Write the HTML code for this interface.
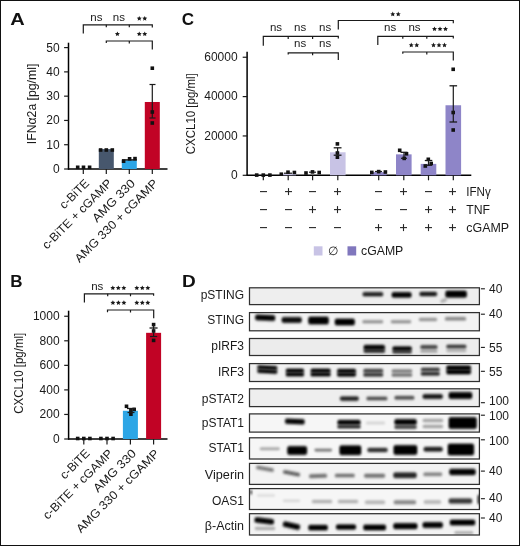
<!DOCTYPE html>
<html><head><meta charset="utf-8"><style>
html,body{margin:0;padding:0;background:#fff;}
svg{display:block;font-family:"Liberation Sans", sans-serif;will-change:transform;}
</style></head><body>
<svg width="520" height="546" viewBox="0 0 520 546">
<defs><filter id="b1" x="-20%" y="-100%" width="140%" height="300%"><feGaussianBlur stdDeviation="0.9"/></filter><filter id="b2" x="-30%" y="-150%" width="160%" height="400%"><feGaussianBlur stdDeviation="1.3"/></filter></defs>
<rect x="0.5" y="0.5" width="519" height="545" fill="#fff" stroke="#111" stroke-width="1"/>
<text transform="translate(10.2 24.8) scale(1.18 1)" font-size="17" font-weight="bold" fill="#111">A</text>
<text transform="translate(181.8 25.0) scale(1.0 1)" font-size="17" font-weight="bold" fill="#111">C</text>
<text transform="translate(10.2 286.6) scale(1.0 1)" font-size="17" font-weight="bold" fill="#111">B</text>
<text transform="translate(182.1 286.7) scale(1.12 1)" font-size="17" font-weight="bold" fill="#111">D</text>
<line x1="68.5" y1="42.7" x2="68.5" y2="169.6" stroke="#000" stroke-width="1.5"/>
<line x1="67.9" y1="169.0" x2="167.5" y2="169.0" stroke="#000" stroke-width="1.5"/>
<line x1="64.1" y1="169.0" x2="68.5" y2="169.0" stroke="#1a1a1a" stroke-width="1.2"/>
<text x="59.6" y="173.01999999999998" font-size="12" text-anchor="end" fill="#1a1a1a">0</text>
<line x1="64.1" y1="144.72" x2="68.5" y2="144.72" stroke="#1a1a1a" stroke-width="1.2"/>
<text x="59.6" y="148.73999999999998" font-size="12" text-anchor="end" fill="#1a1a1a">10</text>
<line x1="64.1" y1="120.44" x2="68.5" y2="120.44" stroke="#1a1a1a" stroke-width="1.2"/>
<text x="59.6" y="124.46" font-size="12" text-anchor="end" fill="#1a1a1a">20</text>
<line x1="64.1" y1="96.16" x2="68.5" y2="96.16" stroke="#1a1a1a" stroke-width="1.2"/>
<text x="59.6" y="100.17999999999999" font-size="12" text-anchor="end" fill="#1a1a1a">30</text>
<line x1="64.1" y1="71.88" x2="68.5" y2="71.88" stroke="#1a1a1a" stroke-width="1.2"/>
<text x="59.6" y="75.89999999999999" font-size="12" text-anchor="end" fill="#1a1a1a">40</text>
<line x1="64.1" y1="47.60000000000001" x2="68.5" y2="47.60000000000001" stroke="#1a1a1a" stroke-width="1.2"/>
<text x="59.6" y="51.62000000000001" font-size="12" text-anchor="end" fill="#1a1a1a">50</text>
<text x="36.5" y="144.2" font-size="13" text-anchor="start" transform="rotate(-90 36.5 144.2)" fill="#1a1a1a" textLength="80.5" lengthAdjust="spacingAndGlyphs">IFN&#945;2a [pg/ml]</text>
<rect x="98.8" y="149.0904" width="15" height="19.90960000000001" fill="#47576d"/>
<rect x="121.80000000000001" y="160.2592" width="15" height="8.740800000000007" fill="#2da6e6"/>
<rect x="144.8" y="101.9872" width="15" height="67.0128" fill="#c10325"/>
<line x1="83.3" y1="169.0" x2="83.3" y2="174.0" stroke="#1a1a1a" stroke-width="1.2"/>
<line x1="106.3" y1="169.0" x2="106.3" y2="174.0" stroke="#1a1a1a" stroke-width="1.2"/>
<line x1="129.3" y1="169.0" x2="129.3" y2="174.0" stroke="#1a1a1a" stroke-width="1.2"/>
<line x1="152.3" y1="169.0" x2="152.3" y2="174.0" stroke="#1a1a1a" stroke-width="1.2"/>
<rect x="75.9" y="165.5" width="3.6" height="3.6" fill="#111"/>
<rect x="81.7" y="165.5" width="3.6" height="3.6" fill="#111"/>
<rect x="87.8" y="165.5" width="3.6" height="3.6" fill="#111"/>
<rect x="98.8" y="148.2" width="3.6" height="3.6" fill="#111"/>
<rect x="104.5" y="148.2" width="3.6" height="3.6" fill="#111"/>
<rect x="110.5" y="148.2" width="3.6" height="3.6" fill="#111"/>
<rect x="121.8" y="159.39999999999998" width="3.6" height="3.6" fill="#111"/>
<rect x="127.8" y="157.0" width="3.6" height="3.6" fill="#111"/>
<rect x="133.2" y="156.79999999999998" width="3.6" height="3.6" fill="#111"/>
<line x1="152.3" y1="84.5" x2="152.3" y2="118" stroke="#1a1a1a" stroke-width="1.2"/>
<line x1="149.5" y1="84.5" x2="155.5" y2="84.5" stroke="#1a1a1a" stroke-width="1.2"/>
<line x1="149.5" y1="118" x2="155.5" y2="118" stroke="#1a1a1a" stroke-width="1.2"/>
<rect x="150.5" y="66.4" width="3.6" height="3.6" fill="#111"/>
<rect x="150.5" y="110.2" width="3.6" height="3.6" fill="#111"/>
<rect x="150.5" y="121.2" width="3.6" height="3.6" fill="#111"/>
<line x1="122" y1="159.9" x2="136.8" y2="159.9" stroke="#111" stroke-width="1.4"/>
<text x="89.8" y="184" font-size="12" text-anchor="end" transform="rotate(-45 89.8 184)" fill="#1a1a1a" textLength="36" lengthAdjust="spacingAndGlyphs">c-BiTE</text>
<text x="112.8" y="184" font-size="12" text-anchor="end" transform="rotate(-45 112.8 184)" fill="#1a1a1a" textLength="93" lengthAdjust="spacingAndGlyphs">c-BiTE + cGAMP</text>
<text x="135.8" y="184" font-size="12" text-anchor="end" transform="rotate(-45 135.8 184)" fill="#1a1a1a" textLength="55" lengthAdjust="spacingAndGlyphs">AMG 330</text>
<text x="158.8" y="184" font-size="12" text-anchor="end" transform="rotate(-45 158.8 184)" fill="#1a1a1a" textLength="112" lengthAdjust="spacingAndGlyphs">AMG 330 + cGAMP</text>
<path d="M83.3,33.5 L83.3,24.8 L152.3,24.8 L152.3,27.5" stroke="#1a1a1a" stroke-width="1.2" fill="none"/>
<line x1="106.3" y1="24.8" x2="106.3" y2="27.3" stroke="#1a1a1a" stroke-width="1.2"/>
<line x1="129.3" y1="24.8" x2="129.3" y2="27.3" stroke="#1a1a1a" stroke-width="1.2"/>
<text x="96.4" y="21.189999999999998" font-size="11.5" text-anchor="middle" fill="#1a1a1a">ns</text>
<text x="118.9" y="21.189999999999998" font-size="11.5" text-anchor="middle" fill="#1a1a1a">ns</text>
<polygon points="139.25,16.00 139.98,17.59 141.72,17.80 140.44,18.99 140.78,20.70 139.25,19.85 137.72,20.70 138.06,18.99 136.78,17.80 138.52,17.59" fill="#1a1a1a"/>
<polygon points="144.75,16.00 145.48,17.59 147.22,17.80 145.94,18.99 146.28,20.70 144.75,19.85 143.22,20.70 143.56,18.99 142.28,17.80 144.02,17.59" fill="#1a1a1a"/>
<path d="M106.3,43.0 L106.3,41.0 L152.3,41.0 L152.3,49.5" stroke="#1a1a1a" stroke-width="1.2" fill="none"/>
<line x1="129.3" y1="41.0" x2="129.3" y2="43.5" stroke="#1a1a1a" stroke-width="1.2"/>
<polygon points="117.40,31.40 118.13,32.99 119.87,33.20 118.59,34.39 118.93,36.10 117.40,35.25 115.87,36.10 116.21,34.39 114.93,33.20 116.67,32.99" fill="#1a1a1a"/>
<polygon points="139.25,31.40 139.98,32.99 141.72,33.20 140.44,34.39 140.78,36.10 139.25,35.25 137.72,36.10 138.06,34.39 136.78,33.20 138.52,32.99" fill="#1a1a1a"/>
<polygon points="144.75,31.40 145.48,32.99 147.22,33.20 145.94,34.39 146.28,36.10 144.75,35.25 143.22,36.10 143.56,34.39 142.28,33.20 144.02,32.99" fill="#1a1a1a"/>
<line x1="68.6" y1="310.7" x2="68.6" y2="439.6" stroke="#000" stroke-width="1.5"/>
<line x1="68.0" y1="439.0" x2="167.5" y2="439.0" stroke="#000" stroke-width="1.5"/>
<line x1="64.19999999999999" y1="439.0" x2="68.6" y2="439.0" stroke="#1a1a1a" stroke-width="1.2"/>
<text x="59.6" y="443.02" font-size="12" text-anchor="end" fill="#1a1a1a">0</text>
<line x1="64.19999999999999" y1="414.45" x2="68.6" y2="414.45" stroke="#1a1a1a" stroke-width="1.2"/>
<text x="59.6" y="418.46999999999997" font-size="12" text-anchor="end" fill="#1a1a1a">200</text>
<line x1="64.19999999999999" y1="389.9" x2="68.6" y2="389.9" stroke="#1a1a1a" stroke-width="1.2"/>
<text x="59.6" y="393.91999999999996" font-size="12" text-anchor="end" fill="#1a1a1a">400</text>
<line x1="64.19999999999999" y1="365.35" x2="68.6" y2="365.35" stroke="#1a1a1a" stroke-width="1.2"/>
<text x="59.6" y="369.37" font-size="12" text-anchor="end" fill="#1a1a1a">600</text>
<line x1="64.19999999999999" y1="340.8" x2="68.6" y2="340.8" stroke="#1a1a1a" stroke-width="1.2"/>
<text x="59.6" y="344.82" font-size="12" text-anchor="end" fill="#1a1a1a">800</text>
<line x1="64.19999999999999" y1="316.25" x2="68.6" y2="316.25" stroke="#1a1a1a" stroke-width="1.2"/>
<text x="59.6" y="320.27" font-size="12" text-anchor="end" fill="#1a1a1a">1000</text>
<text x="23.0" y="413.8" font-size="13" text-anchor="start" transform="rotate(-90 23.0 413.8)" fill="#1a1a1a" textLength="81" lengthAdjust="spacingAndGlyphs">CXCL10 [pg/ml]</text>
<rect x="122.9" y="410.7675" width="15" height="28.232500000000016" fill="#2da6e6"/>
<rect x="146.1" y="332.82125" width="15" height="106.17874999999998" fill="#c10325"/>
<line x1="83.8" y1="439.0" x2="83.8" y2="444.5" stroke="#1a1a1a" stroke-width="1.2"/>
<line x1="107.0" y1="439.0" x2="107.0" y2="444.5" stroke="#1a1a1a" stroke-width="1.2"/>
<line x1="130.4" y1="439.0" x2="130.4" y2="444.5" stroke="#1a1a1a" stroke-width="1.2"/>
<line x1="153.6" y1="439.0" x2="153.6" y2="444.5" stroke="#1a1a1a" stroke-width="1.2"/>
<rect x="75.9" y="436.7" width="3.6" height="3.6" fill="#111"/>
<rect x="82.0" y="436.7" width="3.6" height="3.6" fill="#111"/>
<rect x="88.10000000000001" y="436.7" width="3.6" height="3.6" fill="#111"/>
<rect x="99.10000000000001" y="436.7" width="3.6" height="3.6" fill="#111"/>
<rect x="105.2" y="436.7" width="3.6" height="3.6" fill="#111"/>
<rect x="111.30000000000001" y="436.7" width="3.6" height="3.6" fill="#111"/>
<rect x="124.7" y="404.5" width="3.6" height="3.6" fill="#111"/>
<rect x="132.39999999999998" y="407.59999999999997" width="3.6" height="3.6" fill="#111"/>
<rect x="129.1" y="408.8" width="3.6" height="3.6" fill="#111"/>
<rect x="129.1" y="412.4" width="3.6" height="3.6" fill="#111"/>
<line x1="130.9" y1="408.5" x2="130.9" y2="413" stroke="#1a1a1a" stroke-width="1.2"/>
<line x1="127" y1="408.5" x2="135" y2="408.5" stroke="#1a1a1a" stroke-width="1.3"/>
<line x1="127.5" y1="412.5" x2="134.5" y2="412.5" stroke="#1a1a1a" stroke-width="1.2"/>
<rect x="151.79999999999998" y="322.8" width="3.6" height="3.6" fill="#111"/>
<rect x="151.79999999999998" y="329.2" width="3.6" height="3.6" fill="#111"/>
<rect x="151.79999999999998" y="338.59999999999997" width="3.6" height="3.6" fill="#111"/>
<line x1="153.6" y1="324.6" x2="153.6" y2="336.5" stroke="#1a1a1a" stroke-width="1.2"/>
<line x1="149.5" y1="328" x2="157.6" y2="328" stroke="#1a1a1a" stroke-width="1.3"/>
<line x1="150" y1="336.5" x2="157.2" y2="336.5" stroke="#1a1a1a" stroke-width="1.2"/>
<text x="90.3" y="454.2" font-size="12" text-anchor="end" transform="rotate(-45 90.3 454.2)" fill="#1a1a1a" textLength="36" lengthAdjust="spacingAndGlyphs">c-BiTE</text>
<text x="113.5" y="454.2" font-size="12" text-anchor="end" transform="rotate(-45 113.5 454.2)" fill="#1a1a1a" textLength="93" lengthAdjust="spacingAndGlyphs">c-BiTE + cGAMP</text>
<text x="136.9" y="454.2" font-size="12" text-anchor="end" transform="rotate(-45 136.9 454.2)" fill="#1a1a1a" textLength="55" lengthAdjust="spacingAndGlyphs">AMG 330</text>
<text x="160.1" y="454.2" font-size="12" text-anchor="end" transform="rotate(-45 160.1 454.2)" fill="#1a1a1a" textLength="112" lengthAdjust="spacingAndGlyphs">AMG 330 + cGAMP</text>
<path d="M84.4,302.6 L84.4,293.8 L153.6,293.8 L153.6,295.8" stroke="#1a1a1a" stroke-width="1.2" fill="none"/>
<line x1="107.7" y1="293.8" x2="107.7" y2="296.3" stroke="#1a1a1a" stroke-width="1.2"/>
<line x1="130.5" y1="293.8" x2="130.5" y2="296.3" stroke="#1a1a1a" stroke-width="1.2"/>
<text x="97.3" y="290.19" font-size="11.5" text-anchor="middle" fill="#1a1a1a">ns</text>
<polygon points="112.80,285.40 113.53,286.99 115.27,287.20 113.99,288.39 114.33,290.10 112.80,289.25 111.27,290.10 111.61,288.39 110.33,287.20 112.07,286.99" fill="#1a1a1a"/>
<polygon points="118.30,285.40 119.03,286.99 120.77,287.20 119.49,288.39 119.83,290.10 118.30,289.25 116.77,290.10 117.11,288.39 115.83,287.20 117.57,286.99" fill="#1a1a1a"/>
<polygon points="123.80,285.40 124.53,286.99 126.27,287.20 124.99,288.39 125.33,290.10 123.80,289.25 122.27,290.10 122.61,288.39 121.33,287.20 123.07,286.99" fill="#1a1a1a"/>
<polygon points="136.80,285.40 137.53,286.99 139.27,287.20 137.99,288.39 138.33,290.10 136.80,289.25 135.27,290.10 135.61,288.39 134.33,287.20 136.07,286.99" fill="#1a1a1a"/>
<polygon points="142.30,285.40 143.03,286.99 144.77,287.20 143.49,288.39 143.83,290.10 142.30,289.25 140.77,290.10 141.11,288.39 139.83,287.20 141.57,286.99" fill="#1a1a1a"/>
<polygon points="147.80,285.40 148.53,286.99 150.27,287.20 148.99,288.39 149.33,290.10 147.80,289.25 146.27,290.10 146.61,288.39 145.33,287.20 147.07,286.99" fill="#1a1a1a"/>
<path d="M107.5,312.3 L107.5,310.0 L153.7,310.0 L153.7,318.3" stroke="#1a1a1a" stroke-width="1.2" fill="none"/>
<line x1="130.5" y1="310.0" x2="130.5" y2="312.5" stroke="#1a1a1a" stroke-width="1.2"/>
<polygon points="112.90,300.20 113.63,301.79 115.37,302.00 114.09,303.19 114.43,304.90 112.90,304.05 111.37,304.90 111.71,303.19 110.43,302.00 112.17,301.79" fill="#1a1a1a"/>
<polygon points="118.40,300.20 119.13,301.79 120.87,302.00 119.59,303.19 119.93,304.90 118.40,304.05 116.87,304.90 117.21,303.19 115.93,302.00 117.67,301.79" fill="#1a1a1a"/>
<polygon points="123.90,300.20 124.63,301.79 126.37,302.00 125.09,303.19 125.43,304.90 123.90,304.05 122.37,304.90 122.71,303.19 121.43,302.00 123.17,301.79" fill="#1a1a1a"/>
<polygon points="136.80,300.20 137.53,301.79 139.27,302.00 137.99,303.19 138.33,304.90 136.80,304.05 135.27,304.90 135.61,303.19 134.33,302.00 136.07,301.79" fill="#1a1a1a"/>
<polygon points="142.30,300.20 143.03,301.79 144.77,302.00 143.49,303.19 143.83,304.90 142.30,304.05 140.77,304.90 141.11,303.19 139.83,302.00 141.57,301.79" fill="#1a1a1a"/>
<polygon points="147.80,300.20 148.53,301.79 150.27,302.00 148.99,303.19 149.33,304.90 147.80,304.05 146.27,304.90 146.61,303.19 145.33,302.00 147.07,301.79" fill="#1a1a1a"/>
<line x1="247.1" y1="51.8" x2="247.1" y2="175.9" stroke="#000" stroke-width="1.5"/>
<line x1="246.5" y1="175.3" x2="471.3" y2="175.3" stroke="#000" stroke-width="1.5"/>
<line x1="242.7" y1="175.3" x2="247.1" y2="175.3" stroke="#1a1a1a" stroke-width="1.2"/>
<text x="237.6" y="179.12" font-size="12" text-anchor="end" fill="#1a1a1a">0</text>
<line x1="242.7" y1="135.95000000000002" x2="247.1" y2="135.95000000000002" stroke="#1a1a1a" stroke-width="1.2"/>
<text x="237.6" y="139.77" font-size="12" text-anchor="end" fill="#1a1a1a">20000</text>
<line x1="242.7" y1="96.60000000000001" x2="247.1" y2="96.60000000000001" stroke="#1a1a1a" stroke-width="1.2"/>
<text x="237.6" y="100.42000000000002" font-size="12" text-anchor="end" fill="#1a1a1a">40000</text>
<line x1="242.7" y1="57.250000000000014" x2="247.1" y2="57.250000000000014" stroke="#1a1a1a" stroke-width="1.2"/>
<text x="237.6" y="61.070000000000014" font-size="12" text-anchor="end" fill="#1a1a1a">60000</text>
<text x="194.8" y="154.2" font-size="13" text-anchor="start" transform="rotate(-90 194.8 154.2)" fill="#1a1a1a" textLength="81" lengthAdjust="spacingAndGlyphs">CXCL10 [pg/ml]</text>
<rect x="280.4" y="173.726" width="15.6" height="1.5740000000000123" fill="#c8c3e5"/>
<rect x="330.0" y="152.28025000000002" width="15.6" height="23.019749999999988" fill="#c8c3e5"/>
<rect x="370.9" y="172.15200000000002" width="15.6" height="3.147999999999996" fill="#8e85c8"/>
<rect x="396.0" y="154.346125" width="15.6" height="20.95387500000001" fill="#8e85c8"/>
<rect x="420.7" y="163.88850000000002" width="15.6" height="11.41149999999999" fill="#8e85c8"/>
<rect x="445.5" y="105.257" width="15.6" height="70.043" fill="#8e85c8"/>
<line x1="263.3" y1="175.3" x2="263.3" y2="180.3" stroke="#1a1a1a" stroke-width="1.2"/>
<line x1="288.2" y1="175.3" x2="288.2" y2="180.3" stroke="#1a1a1a" stroke-width="1.2"/>
<line x1="312.6" y1="175.3" x2="312.6" y2="180.3" stroke="#1a1a1a" stroke-width="1.2"/>
<line x1="337.8" y1="175.3" x2="337.8" y2="180.3" stroke="#1a1a1a" stroke-width="1.2"/>
<line x1="378.7" y1="175.3" x2="378.7" y2="180.3" stroke="#1a1a1a" stroke-width="1.2"/>
<line x1="403.8" y1="175.3" x2="403.8" y2="180.3" stroke="#1a1a1a" stroke-width="1.2"/>
<line x1="428.5" y1="175.3" x2="428.5" y2="180.3" stroke="#1a1a1a" stroke-width="1.2"/>
<line x1="453.3" y1="175.3" x2="453.3" y2="180.3" stroke="#1a1a1a" stroke-width="1.2"/>
<rect x="254.89999999999998" y="173.29999999999998" width="3.6" height="3.6" fill="#111"/>
<rect x="261.5" y="173.29999999999998" width="3.6" height="3.6" fill="#111"/>
<rect x="268.09999999999997" y="173.29999999999998" width="3.6" height="3.6" fill="#111"/>
<rect x="279.5" y="172.39999999999998" width="3.6" height="3.6" fill="#111"/>
<rect x="286.2" y="170.39999999999998" width="3.6" height="3.6" fill="#111"/>
<rect x="292.59999999999997" y="170.7" width="3.6" height="3.6" fill="#111"/>
<line x1="284" y1="173.2" x2="292" y2="173.2" stroke="#1a1a1a" stroke-width="1.2"/>
<rect x="304.2" y="171.2" width="3.6" height="3.6" fill="#111"/>
<rect x="310.7" y="170.1" width="3.6" height="3.6" fill="#111"/>
<rect x="317.4" y="170.7" width="3.6" height="3.6" fill="#111"/>
<line x1="309" y1="172.2" x2="316" y2="172.2" stroke="#1a1a1a" stroke-width="1.2"/>
<rect x="335.59999999999997" y="142.1" width="3.6" height="3.6" fill="#111"/>
<rect x="335.59999999999997" y="151.2" width="3.6" height="3.6" fill="#111"/>
<rect x="335.59999999999997" y="155.39999999999998" width="3.6" height="3.6" fill="#111"/>
<line x1="337.6" y1="147.8" x2="337.6" y2="155.2" stroke="#1a1a1a" stroke-width="1.2"/>
<line x1="333.7" y1="147.8" x2="341.5" y2="147.8" stroke="#1a1a1a" stroke-width="1.3"/>
<line x1="333.7" y1="155.2" x2="341.5" y2="155.2" stroke="#1a1a1a" stroke-width="1.3"/>
<rect x="370.0" y="170.6" width="3.6" height="3.6" fill="#111"/>
<rect x="376.9" y="169.79999999999998" width="3.6" height="3.6" fill="#111"/>
<rect x="383.59999999999997" y="170.2" width="3.6" height="3.6" fill="#111"/>
<line x1="375" y1="171.5" x2="382" y2="171.5" stroke="#1a1a1a" stroke-width="1.2"/>
<rect x="397.9" y="148.5" width="3.6" height="3.6" fill="#111"/>
<rect x="404.7" y="152.0" width="3.6" height="3.6" fill="#111"/>
<rect x="402.4" y="156.6" width="3.6" height="3.6" fill="#111"/>
<line x1="404" y1="152.3" x2="404" y2="158.5" stroke="#1a1a1a" stroke-width="1.2"/>
<line x1="400.5" y1="152.3" x2="407.5" y2="152.3" stroke="#1a1a1a" stroke-width="1.3"/>
<line x1="401" y1="158.3" x2="407" y2="158.3" stroke="#1a1a1a" stroke-width="1.2"/>
<rect x="426.5" y="157.5" width="3.6" height="3.6" fill="#111"/>
<rect x="423.5" y="164.2" width="3.6" height="3.6" fill="#111"/>
<rect x="429.4" y="161.7" width="3.6" height="3.6" fill="#111"/>
<line x1="428.5" y1="160.5" x2="428.5" y2="165.5" stroke="#1a1a1a" stroke-width="1.2"/>
<line x1="424.8" y1="160.5" x2="432.3" y2="160.5" stroke="#1a1a1a" stroke-width="1.3"/>
<line x1="425" y1="165.3" x2="432" y2="165.3" stroke="#1a1a1a" stroke-width="1.2"/>
<rect x="451.4" y="67.5" width="3.6" height="3.6" fill="#111"/>
<rect x="451.4" y="110.7" width="3.6" height="3.6" fill="#111"/>
<rect x="451.4" y="128.2" width="3.6" height="3.6" fill="#111"/>
<line x1="453.3" y1="85.8" x2="453.3" y2="122" stroke="#1a1a1a" stroke-width="1.2"/>
<line x1="449.5" y1="85.8" x2="457.1" y2="85.8" stroke="#1a1a1a" stroke-width="1.3"/>
<line x1="449.5" y1="122" x2="457.1" y2="122" stroke="#1a1a1a" stroke-width="1.3"/>
<line x1="260.0" y1="191.6" x2="267.0" y2="191.6" stroke="#262626" stroke-width="1.1"/>
<line x1="285.0" y1="191.6" x2="292.0" y2="191.6" stroke="#262626" stroke-width="1.1"/>
<line x1="288.5" y1="188.1" x2="288.5" y2="195.1" stroke="#262626" stroke-width="1.1"/>
<line x1="309.0" y1="191.6" x2="316.0" y2="191.6" stroke="#262626" stroke-width="1.1"/>
<line x1="334.0" y1="191.6" x2="341.0" y2="191.6" stroke="#262626" stroke-width="1.1"/>
<line x1="337.5" y1="188.1" x2="337.5" y2="195.1" stroke="#262626" stroke-width="1.1"/>
<line x1="375.0" y1="191.6" x2="382.0" y2="191.6" stroke="#262626" stroke-width="1.1"/>
<line x1="400.0" y1="191.6" x2="407.0" y2="191.6" stroke="#262626" stroke-width="1.1"/>
<line x1="403.5" y1="188.1" x2="403.5" y2="195.1" stroke="#262626" stroke-width="1.1"/>
<line x1="425.0" y1="191.6" x2="432.0" y2="191.6" stroke="#262626" stroke-width="1.1"/>
<line x1="449.0" y1="191.6" x2="456.0" y2="191.6" stroke="#262626" stroke-width="1.1"/>
<line x1="452.5" y1="188.1" x2="452.5" y2="195.1" stroke="#262626" stroke-width="1.1"/>
<text x="466.3" y="195.61999999999998" font-size="12" text-anchor="start" fill="#1a1a1a" textLength="24.5" lengthAdjust="spacingAndGlyphs">IFN&#947;</text>
<line x1="260.0" y1="209.6" x2="267.0" y2="209.6" stroke="#262626" stroke-width="1.1"/>
<line x1="285.0" y1="209.6" x2="292.0" y2="209.6" stroke="#262626" stroke-width="1.1"/>
<line x1="309.0" y1="209.6" x2="316.0" y2="209.6" stroke="#262626" stroke-width="1.1"/>
<line x1="312.5" y1="206.1" x2="312.5" y2="213.1" stroke="#262626" stroke-width="1.1"/>
<line x1="334.0" y1="209.6" x2="341.0" y2="209.6" stroke="#262626" stroke-width="1.1"/>
<line x1="337.5" y1="206.1" x2="337.5" y2="213.1" stroke="#262626" stroke-width="1.1"/>
<line x1="375.0" y1="209.6" x2="382.0" y2="209.6" stroke="#262626" stroke-width="1.1"/>
<line x1="400.0" y1="209.6" x2="407.0" y2="209.6" stroke="#262626" stroke-width="1.1"/>
<line x1="425.0" y1="209.6" x2="432.0" y2="209.6" stroke="#262626" stroke-width="1.1"/>
<line x1="428.5" y1="206.1" x2="428.5" y2="213.1" stroke="#262626" stroke-width="1.1"/>
<line x1="449.0" y1="209.6" x2="456.0" y2="209.6" stroke="#262626" stroke-width="1.1"/>
<line x1="452.5" y1="206.1" x2="452.5" y2="213.1" stroke="#262626" stroke-width="1.1"/>
<text x="466.3" y="213.61999999999998" font-size="12" text-anchor="start" fill="#1a1a1a" textLength="23.8" lengthAdjust="spacingAndGlyphs">TNF</text>
<line x1="260.0" y1="227.6" x2="267.0" y2="227.6" stroke="#262626" stroke-width="1.1"/>
<line x1="285.0" y1="227.6" x2="292.0" y2="227.6" stroke="#262626" stroke-width="1.1"/>
<line x1="309.0" y1="227.6" x2="316.0" y2="227.6" stroke="#262626" stroke-width="1.1"/>
<line x1="334.0" y1="227.6" x2="341.0" y2="227.6" stroke="#262626" stroke-width="1.1"/>
<line x1="375.0" y1="227.6" x2="382.0" y2="227.6" stroke="#262626" stroke-width="1.1"/>
<line x1="378.5" y1="224.1" x2="378.5" y2="231.1" stroke="#262626" stroke-width="1.1"/>
<line x1="400.0" y1="227.6" x2="407.0" y2="227.6" stroke="#262626" stroke-width="1.1"/>
<line x1="403.5" y1="224.1" x2="403.5" y2="231.1" stroke="#262626" stroke-width="1.1"/>
<line x1="425.0" y1="227.6" x2="432.0" y2="227.6" stroke="#262626" stroke-width="1.1"/>
<line x1="428.5" y1="224.1" x2="428.5" y2="231.1" stroke="#262626" stroke-width="1.1"/>
<line x1="449.0" y1="227.6" x2="456.0" y2="227.6" stroke="#262626" stroke-width="1.1"/>
<line x1="452.5" y1="224.1" x2="452.5" y2="231.1" stroke="#262626" stroke-width="1.1"/>
<text x="466.3" y="231.61999999999998" font-size="12" text-anchor="start" fill="#1a1a1a" textLength="42.8" lengthAdjust="spacingAndGlyphs">cGAMP</text>
<rect x="313.8" y="246.3" width="8.7" height="9.2" fill="#c8c3e5"/>
<text x="332.5" y="255.04" font-size="11.5" text-anchor="middle" fill="#1a1a1a">&#8709;</text>
<rect x="347.5" y="246.3" width="8.7" height="9.2" fill="#8077bd"/>
<text x="361.0" y="254.92" font-size="12" text-anchor="start" fill="#1a1a1a" textLength="42.3" lengthAdjust="spacingAndGlyphs">cGAMP</text>
<path d="M338.3,29.5 L338.3,20.5 L453.3,20.5 L453.3,23.2" stroke="#1a1a1a" stroke-width="1.2" fill="none"/>
<polygon points="392.75,11.60 393.48,13.19 395.22,13.40 393.94,14.59 394.28,16.30 392.75,15.45 391.22,16.30 391.56,14.59 390.28,13.40 392.02,13.19" fill="#1a1a1a"/>
<polygon points="398.25,11.60 398.98,13.19 400.72,13.40 399.44,14.59 399.78,16.30 398.25,15.45 396.72,16.30 397.06,14.59 395.78,13.40 397.52,13.19" fill="#1a1a1a"/>
<path d="M263.3,45.8 L263.3,36.4 L338.3,36.4 L338.3,38.6" stroke="#1a1a1a" stroke-width="1.2" fill="none"/>
<line x1="288.2" y1="36.4" x2="288.2" y2="38.9" stroke="#1a1a1a" stroke-width="1.2"/>
<line x1="312.6" y1="36.4" x2="312.6" y2="38.9" stroke="#1a1a1a" stroke-width="1.2"/>
<path d="M377.8,45.0 L377.8,36.3 L453.3,36.3 L453.3,38.5" stroke="#1a1a1a" stroke-width="1.2" fill="none"/>
<line x1="402.8" y1="36.3" x2="402.8" y2="38.8" stroke="#1a1a1a" stroke-width="1.2"/>
<line x1="426.8" y1="36.3" x2="426.8" y2="38.8" stroke="#1a1a1a" stroke-width="1.2"/>
<text x="276" y="30.79" font-size="11.5" text-anchor="middle" fill="#1a1a1a">ns</text>
<text x="300.2" y="30.79" font-size="11.5" text-anchor="middle" fill="#1a1a1a">ns</text>
<text x="325.2" y="30.79" font-size="11.5" text-anchor="middle" fill="#1a1a1a">ns</text>
<text x="390.2" y="30.79" font-size="11.5" text-anchor="middle" fill="#1a1a1a">ns</text>
<text x="414.5" y="30.79" font-size="11.5" text-anchor="middle" fill="#1a1a1a">ns</text>
<polygon points="434.50,26.40 435.23,27.99 436.97,28.20 435.69,29.39 436.03,31.10 434.50,30.25 432.97,31.10 433.31,29.39 432.03,28.20 433.77,27.99" fill="#1a1a1a"/>
<polygon points="440.00,26.40 440.73,27.99 442.47,28.20 441.19,29.39 441.53,31.10 440.00,30.25 438.47,31.10 438.81,29.39 437.53,28.20 439.27,27.99" fill="#1a1a1a"/>
<polygon points="445.50,26.40 446.23,27.99 447.97,28.20 446.69,29.39 447.03,31.10 445.50,30.25 443.97,31.10 444.31,29.39 443.03,28.20 444.77,27.99" fill="#1a1a1a"/>
<path d="M288.2,54.4 L288.2,52.8 L338.3,52.8 L338.3,60.0" stroke="#1a1a1a" stroke-width="1.2" fill="none"/>
<line x1="312.6" y1="52.8" x2="312.6" y2="55.3" stroke="#1a1a1a" stroke-width="1.2"/>
<path d="M402.8,53.8 L402.8,52.0 L453.3,52.0 L453.3,60.5" stroke="#1a1a1a" stroke-width="1.2" fill="none"/>
<line x1="426.8" y1="52.0" x2="426.8" y2="54.5" stroke="#1a1a1a" stroke-width="1.2"/>
<text x="300.2" y="46.79" font-size="11.5" text-anchor="middle" fill="#1a1a1a">ns</text>
<text x="325.2" y="46.79" font-size="11.5" text-anchor="middle" fill="#1a1a1a">ns</text>
<polygon points="411.25,42.60 411.98,44.19 413.72,44.40 412.44,45.59 412.78,47.30 411.25,46.45 409.72,47.30 410.06,45.59 408.78,44.40 410.52,44.19" fill="#1a1a1a"/>
<polygon points="416.75,42.60 417.48,44.19 419.22,44.40 417.94,45.59 418.28,47.30 416.75,46.45 415.22,47.30 415.56,45.59 414.28,44.40 416.02,44.19" fill="#1a1a1a"/>
<polygon points="433.50,42.60 434.23,44.19 435.97,44.40 434.69,45.59 435.03,47.30 433.50,46.45 431.97,47.30 432.31,45.59 431.03,44.40 432.77,44.19" fill="#1a1a1a"/>
<polygon points="439.00,42.60 439.73,44.19 441.47,44.40 440.19,45.59 440.53,47.30 439.00,46.45 437.47,47.30 437.81,45.59 436.53,44.40 438.27,44.19" fill="#1a1a1a"/>
<polygon points="444.50,42.60 445.23,44.19 446.97,44.40 445.69,45.59 446.03,47.30 444.50,46.45 442.97,47.30 443.31,45.59 442.03,44.40 443.77,44.19" fill="#1a1a1a"/>
<rect x="249.5" y="287.8" width="229.89999999999998" height="16.80000000000001" fill="#eeeeee"/>
<svg x="249.5" y="287.8" width="229.89999999999998" height="16.80000000000001" viewBox="249.5 287.8 229.89999999999998 16.80000000000001" overflow="hidden">
<rect x="362.20" y="291.10" width="21.40" height="6.20" rx="2.50" fill="#000" fill-opacity="0.238" filter="url(#b2)"/>
<rect x="362.80" y="292.40" width="20.20" height="3.60" rx="1.80" fill="#000" fill-opacity="0.85" filter="url(#b1)"/>
<rect x="391.30" y="291.20" width="20.60" height="7.40" rx="2.50" fill="#000" fill-opacity="0.280" filter="url(#b2)"/>
<rect x="391.90" y="292.50" width="19.40" height="4.80" rx="2.00" fill="#000" fill-opacity="1.0" filter="url(#b1)"/>
<rect x="419.00" y="290.90" width="18.50" height="6.20" rx="2.50" fill="#000" fill-opacity="0.258" filter="url(#b2)"/>
<rect x="419.60" y="292.20" width="17.30" height="3.60" rx="1.80" fill="#000" fill-opacity="0.92" filter="url(#b1)"/>
<rect x="445.00" y="289.80" width="22.20" height="8.80" rx="2.50" fill="#000" fill-opacity="0.280" filter="url(#b2)"/>
<rect x="445.60" y="291.10" width="21.00" height="6.20" rx="2.00" fill="#000" fill-opacity="1.0" filter="url(#b1)"/>
<rect x="439.90" y="297.95" width="7.70" height="5.10" rx="2.50" fill="#000" fill-opacity="0.070" filter="url(#b2)" transform="rotate(-24.78 443.75 300.50)"/>
<rect x="440.50" y="299.25" width="6.50" height="2.50" rx="1.25" fill="#000" fill-opacity="0.25" filter="url(#b2)" transform="rotate(-24.78 443.75 300.50)"/>
</svg>
<rect x="249.5" y="287.8" width="229.89999999999998" height="16.80000000000001" fill="none" stroke="#303030" stroke-width="1.25"/>
<text x="244.0" y="298.65000000000003" font-size="12" text-anchor="end" fill="#1a1a1a">pSTING</text>
<line x1="480.9" y1="288.8" x2="484.9" y2="288.8" stroke="#1a1a1a" stroke-width="1.1"/>
<text x="489.0" y="293.1" font-size="12" text-anchor="start" fill="#1a1a1a">40</text>
<rect x="249.5" y="312.6" width="229.89999999999998" height="18.19999999999999" fill="#f3f3f3"/>
<svg x="249.5" y="312.6" width="229.89999999999998" height="18.19999999999999" viewBox="249.5 312.6 229.89999999999998 18.19999999999999" overflow="hidden">
<rect x="254.80" y="314.00" width="20.80" height="7.60" rx="2.50" fill="#000" fill-opacity="0.280" filter="url(#b2)" transform="rotate(2.34 265.20 317.80)"/>
<rect x="255.40" y="315.30" width="19.60" height="5.00" rx="2.00" fill="#000" fill-opacity="1.0" filter="url(#b1)" transform="rotate(2.34 265.20 317.80)"/>
<rect x="281.30" y="316.10" width="20.80" height="7.60" rx="2.50" fill="#000" fill-opacity="0.266" filter="url(#b2)"/>
<rect x="281.90" y="317.40" width="19.60" height="5.00" rx="2.00" fill="#000" fill-opacity="0.95" filter="url(#b1)"/>
<rect x="307.90" y="315.80" width="21.20" height="9.60" rx="2.50" fill="#000" fill-opacity="0.280" filter="url(#b2)"/>
<rect x="308.50" y="317.10" width="20.00" height="7.00" rx="2.00" fill="#000" fill-opacity="1.0" filter="url(#b1)"/>
<rect x="334.40" y="317.70" width="20.80" height="8.60" rx="2.50" fill="#000" fill-opacity="0.280" filter="url(#b2)"/>
<rect x="335.00" y="319.00" width="19.60" height="6.00" rx="2.00" fill="#000" fill-opacity="1.0" filter="url(#b1)"/>
<rect x="361.90" y="319.25" width="21.70" height="5.10" rx="2.50" fill="#000" fill-opacity="0.098" filter="url(#b2)"/>
<rect x="362.50" y="320.55" width="20.50" height="2.50" rx="1.25" fill="#000" fill-opacity="0.35" filter="url(#b2)"/>
<rect x="390.40" y="319.25" width="21.20" height="5.10" rx="2.50" fill="#000" fill-opacity="0.098" filter="url(#b2)"/>
<rect x="391.00" y="320.55" width="20.00" height="2.50" rx="1.25" fill="#000" fill-opacity="0.35" filter="url(#b2)"/>
<rect x="418.40" y="316.95" width="19.20" height="5.10" rx="2.50" fill="#000" fill-opacity="0.098" filter="url(#b2)"/>
<rect x="419.00" y="318.25" width="18.00" height="2.50" rx="1.25" fill="#000" fill-opacity="0.35" filter="url(#b2)"/>
<rect x="444.40" y="316.00" width="22.20" height="5.60" rx="2.50" fill="#000" fill-opacity="0.106" filter="url(#b2)"/>
<rect x="445.00" y="317.30" width="21.00" height="3.00" rx="1.50" fill="#000" fill-opacity="0.38" filter="url(#b2)"/>
</svg>
<rect x="249.5" y="312.6" width="229.89999999999998" height="18.19999999999999" fill="none" stroke="#303030" stroke-width="1.25"/>
<text x="244.0" y="324.40000000000003" font-size="12" text-anchor="end" fill="#1a1a1a">STING</text>
<line x1="480.9" y1="314.2" x2="484.9" y2="314.2" stroke="#1a1a1a" stroke-width="1.1"/>
<text x="489.0" y="318.2" font-size="12" text-anchor="start" fill="#1a1a1a">40</text>
<rect x="249.5" y="338.5" width="229.89999999999998" height="17.0" fill="#ececec"/>
<svg x="249.5" y="338.5" width="229.89999999999998" height="17.0" viewBox="249.5 338.5 229.89999999999998 17.0" overflow="hidden">
<rect x="363.20" y="344.00" width="22.20" height="6.80" rx="2.50" fill="#000" fill-opacity="0.280" filter="url(#b2)"/>
<rect x="363.80" y="345.30" width="21.00" height="4.20" rx="2.00" fill="#000" fill-opacity="1.0" filter="url(#b1)"/>
<rect x="363.20" y="348.20" width="22.20" height="5.60" rx="2.50" fill="#000" fill-opacity="0.224" filter="url(#b2)"/>
<rect x="363.80" y="349.50" width="21.00" height="3.00" rx="1.50" fill="#000" fill-opacity="0.8" filter="url(#b1)"/>
<rect x="392.00" y="345.50" width="20.20" height="6.20" rx="2.50" fill="#000" fill-opacity="0.280" filter="url(#b2)"/>
<rect x="392.60" y="346.80" width="19.00" height="3.60" rx="1.80" fill="#000" fill-opacity="1.0" filter="url(#b1)"/>
<rect x="392.00" y="349.30" width="20.20" height="5.20" rx="2.50" fill="#000" fill-opacity="0.196" filter="url(#b2)"/>
<rect x="392.60" y="350.60" width="19.00" height="2.60" rx="1.30" fill="#000" fill-opacity="0.7" filter="url(#b1)"/>
<rect x="419.90" y="344.20" width="18.00" height="5.60" rx="2.50" fill="#000" fill-opacity="0.196" filter="url(#b2)"/>
<rect x="420.50" y="345.50" width="16.80" height="3.00" rx="1.50" fill="#000" fill-opacity="0.7" filter="url(#b1)"/>
<rect x="419.90" y="348.90" width="18.00" height="4.60" rx="2.30" fill="#000" fill-opacity="0.084" filter="url(#b2)"/>
<rect x="420.50" y="350.20" width="16.80" height="2.00" rx="1.00" fill="#000" fill-opacity="0.3" filter="url(#b2)"/>
<rect x="445.90" y="343.70" width="20.90" height="5.60" rx="2.50" fill="#000" fill-opacity="0.196" filter="url(#b2)"/>
<rect x="446.50" y="345.00" width="19.70" height="3.00" rx="1.50" fill="#000" fill-opacity="0.7" filter="url(#b1)"/>
<rect x="445.90" y="348.30" width="20.90" height="4.60" rx="2.30" fill="#000" fill-opacity="0.070" filter="url(#b2)"/>
<rect x="446.50" y="349.60" width="19.70" height="2.00" rx="1.00" fill="#000" fill-opacity="0.25" filter="url(#b2)"/>
</svg>
<rect x="249.5" y="338.5" width="229.89999999999998" height="17.0" fill="none" stroke="#303030" stroke-width="1.25"/>
<text x="244.0" y="350.35" font-size="12" text-anchor="end" fill="#1a1a1a">pIRF3</text>
<line x1="480.9" y1="347.4" x2="484.9" y2="347.4" stroke="#1a1a1a" stroke-width="1.1"/>
<text x="489.0" y="351.7" font-size="12" text-anchor="start" fill="#1a1a1a">55</text>
<rect x="249.5" y="363.6" width="229.89999999999998" height="17.899999999999977" fill="#f1f1f1"/>
<svg x="249.5" y="363.6" width="229.89999999999998" height="17.899999999999977" viewBox="249.5 363.6 229.89999999999998 17.899999999999977" overflow="hidden">
<rect x="256.90" y="364.70" width="20.80" height="5.80" rx="2.50" fill="#000" fill-opacity="0.280" filter="url(#b2)" transform="rotate(2.92 267.30 367.60)"/>
<rect x="257.50" y="366.00" width="19.60" height="3.20" rx="1.60" fill="#000" fill-opacity="1.0" filter="url(#b1)" transform="rotate(2.92 267.30 367.60)"/>
<rect x="256.90" y="368.40" width="20.80" height="5.80" rx="2.50" fill="#000" fill-opacity="0.280" filter="url(#b2)" transform="rotate(2.92 267.30 371.30)"/>
<rect x="257.50" y="369.70" width="19.60" height="3.20" rx="1.60" fill="#000" fill-opacity="1.0" filter="url(#b1)" transform="rotate(2.92 267.30 371.30)"/>
<rect x="285.40" y="367.80" width="19.00" height="6.00" rx="2.50" fill="#000" fill-opacity="0.280" filter="url(#b2)"/>
<rect x="286.00" y="369.10" width="17.80" height="3.40" rx="1.70" fill="#000" fill-opacity="1.0" filter="url(#b1)"/>
<rect x="285.40" y="371.40" width="19.00" height="6.00" rx="2.50" fill="#000" fill-opacity="0.280" filter="url(#b2)"/>
<rect x="286.00" y="372.70" width="17.80" height="3.40" rx="1.70" fill="#000" fill-opacity="1.0" filter="url(#b1)"/>
<rect x="310.20" y="367.80" width="20.80" height="6.00" rx="2.50" fill="#000" fill-opacity="0.280" filter="url(#b2)"/>
<rect x="310.80" y="369.10" width="19.60" height="3.40" rx="1.70" fill="#000" fill-opacity="1.0" filter="url(#b1)"/>
<rect x="310.20" y="371.40" width="20.80" height="6.00" rx="2.50" fill="#000" fill-opacity="0.280" filter="url(#b2)"/>
<rect x="310.80" y="372.70" width="19.60" height="3.40" rx="1.70" fill="#000" fill-opacity="1.0" filter="url(#b1)"/>
<rect x="336.70" y="368.00" width="19.70" height="6.00" rx="2.50" fill="#000" fill-opacity="0.280" filter="url(#b2)"/>
<rect x="337.30" y="369.30" width="18.50" height="3.40" rx="1.70" fill="#000" fill-opacity="1.0" filter="url(#b1)"/>
<rect x="336.70" y="371.60" width="19.70" height="6.00" rx="2.50" fill="#000" fill-opacity="0.280" filter="url(#b2)"/>
<rect x="337.30" y="372.90" width="18.50" height="3.40" rx="1.70" fill="#000" fill-opacity="1.0" filter="url(#b1)"/>
<rect x="362.90" y="368.00" width="20.70" height="5.60" rx="2.50" fill="#000" fill-opacity="0.196" filter="url(#b2)"/>
<rect x="363.50" y="369.30" width="19.50" height="3.00" rx="1.50" fill="#000" fill-opacity="0.7" filter="url(#b1)"/>
<rect x="362.90" y="371.90" width="20.70" height="5.60" rx="2.50" fill="#000" fill-opacity="0.210" filter="url(#b2)"/>
<rect x="363.50" y="373.20" width="19.50" height="3.00" rx="1.50" fill="#000" fill-opacity="0.75" filter="url(#b1)"/>
<rect x="391.20" y="368.45" width="21.40" height="5.10" rx="2.50" fill="#000" fill-opacity="0.126" filter="url(#b2)"/>
<rect x="391.80" y="369.75" width="20.20" height="2.50" rx="1.25" fill="#000" fill-opacity="0.45" filter="url(#b2)"/>
<rect x="391.20" y="372.45" width="21.40" height="5.10" rx="2.50" fill="#000" fill-opacity="0.140" filter="url(#b2)"/>
<rect x="391.80" y="373.75" width="20.20" height="2.50" rx="1.25" fill="#000" fill-opacity="0.5" filter="url(#b1)"/>
<rect x="420.40" y="366.80" width="19.80" height="5.60" rx="2.50" fill="#000" fill-opacity="0.196" filter="url(#b2)"/>
<rect x="421.00" y="368.10" width="18.60" height="3.00" rx="1.50" fill="#000" fill-opacity="0.7" filter="url(#b1)"/>
<rect x="420.40" y="371.00" width="19.80" height="5.60" rx="2.50" fill="#000" fill-opacity="0.224" filter="url(#b2)"/>
<rect x="421.00" y="372.30" width="18.60" height="3.00" rx="1.50" fill="#000" fill-opacity="0.8" filter="url(#b1)"/>
<rect x="445.90" y="364.45" width="25.50" height="6.90" rx="2.50" fill="#000" fill-opacity="0.280" filter="url(#b2)"/>
<rect x="446.50" y="365.75" width="24.30" height="4.30" rx="2.00" fill="#000" fill-opacity="1.0" filter="url(#b1)"/>
<rect x="445.90" y="368.35" width="25.50" height="6.90" rx="2.50" fill="#000" fill-opacity="0.280" filter="url(#b2)"/>
<rect x="446.50" y="369.65" width="24.30" height="4.30" rx="2.00" fill="#000" fill-opacity="1.0" filter="url(#b1)"/>
</svg>
<rect x="249.5" y="363.6" width="229.89999999999998" height="17.899999999999977" fill="none" stroke="#303030" stroke-width="1.25"/>
<text x="244.0" y="375.65000000000003" font-size="12" text-anchor="end" fill="#1a1a1a">IRF3</text>
<line x1="480.9" y1="371.3" x2="484.9" y2="371.3" stroke="#1a1a1a" stroke-width="1.1"/>
<text x="489.0" y="375.6" font-size="12" text-anchor="start" fill="#1a1a1a">55</text>
<rect x="249.5" y="388.8" width="229.89999999999998" height="17.80000000000001" fill="#eeeeee"/>
<svg x="249.5" y="388.8" width="229.89999999999998" height="17.80000000000001" viewBox="249.5 388.8 229.89999999999998 17.80000000000001" overflow="hidden">
<rect x="339.50" y="395.50" width="19.70" height="6.20" rx="2.50" fill="#000" fill-opacity="0.230" filter="url(#b2)"/>
<rect x="340.10" y="396.80" width="18.50" height="3.60" rx="1.80" fill="#000" fill-opacity="0.82" filter="url(#b1)"/>
<rect x="366.00" y="395.60" width="21.80" height="5.60" rx="2.50" fill="#000" fill-opacity="0.168" filter="url(#b2)"/>
<rect x="366.60" y="396.90" width="20.60" height="3.00" rx="1.50" fill="#000" fill-opacity="0.6" filter="url(#b1)"/>
<rect x="394.00" y="394.90" width="20.80" height="5.60" rx="2.50" fill="#000" fill-opacity="0.174" filter="url(#b2)"/>
<rect x="394.60" y="396.20" width="19.60" height="3.00" rx="1.50" fill="#000" fill-opacity="0.62" filter="url(#b1)"/>
<rect x="422.20" y="393.20" width="21.00" height="6.60" rx="2.50" fill="#000" fill-opacity="0.252" filter="url(#b2)"/>
<rect x="422.80" y="394.50" width="19.80" height="4.00" rx="2.00" fill="#000" fill-opacity="0.9" filter="url(#b1)"/>
<rect x="448.30" y="391.10" width="24.30" height="8.60" rx="2.50" fill="#000" fill-opacity="0.280" filter="url(#b2)"/>
<rect x="448.90" y="392.40" width="23.10" height="6.00" rx="2.00" fill="#000" fill-opacity="1.0" filter="url(#b1)"/>
</svg>
<rect x="249.5" y="388.8" width="229.89999999999998" height="17.80000000000001" fill="none" stroke="#303030" stroke-width="1.25"/>
<text x="244.0" y="402.55" font-size="12" text-anchor="end" fill="#1a1a1a">pSTAT2</text>
<line x1="480.9" y1="402.7" x2="484.9" y2="402.7" stroke="#1a1a1a" stroke-width="1.1"/>
<text x="489.0" y="404.8" font-size="12" text-anchor="start" fill="#1a1a1a">100</text>
<rect x="249.5" y="413.9" width="229.89999999999998" height="18.200000000000045" fill="#f6f6f6"/>
<svg x="249.5" y="413.9" width="229.89999999999998" height="18.200000000000045" viewBox="249.5 413.9 229.89999999999998 18.200000000000045" overflow="hidden">
<rect x="284.60" y="417.95" width="20.50" height="7.10" rx="2.50" fill="#000" fill-opacity="0.280" filter="url(#b2)" transform="rotate(2.37 294.85 421.50)"/>
<rect x="285.20" y="419.25" width="19.30" height="4.50" rx="2.00" fill="#000" fill-opacity="1.0" filter="url(#b1)" transform="rotate(2.37 294.85 421.50)"/>
<rect x="337.00" y="418.90" width="24.00" height="6.80" rx="2.50" fill="#000" fill-opacity="0.280" filter="url(#b2)"/>
<rect x="337.60" y="420.20" width="22.80" height="4.20" rx="2.00" fill="#000" fill-opacity="1.0" filter="url(#b1)"/>
<rect x="337.00" y="424.10" width="24.00" height="5.20" rx="2.50" fill="#000" fill-opacity="0.238" filter="url(#b2)"/>
<rect x="337.60" y="425.40" width="22.80" height="2.60" rx="1.30" fill="#000" fill-opacity="0.85" filter="url(#b1)"/>
<rect x="365.40" y="420.45" width="20.20" height="5.10" rx="2.50" fill="#000" fill-opacity="0.028" filter="url(#b2)"/>
<rect x="366.00" y="421.75" width="19.00" height="2.50" rx="1.25" fill="#000" fill-opacity="0.1" filter="url(#b2)"/>
<rect x="394.00" y="418.10" width="23.10" height="7.60" rx="2.50" fill="#000" fill-opacity="0.280" filter="url(#b2)"/>
<rect x="394.60" y="419.40" width="21.90" height="5.00" rx="2.00" fill="#000" fill-opacity="1.0" filter="url(#b1)"/>
<rect x="394.00" y="424.20" width="23.10" height="5.60" rx="2.50" fill="#000" fill-opacity="0.196" filter="url(#b2)"/>
<rect x="394.60" y="425.50" width="21.90" height="3.00" rx="1.50" fill="#000" fill-opacity="0.7" filter="url(#b1)"/>
<rect x="422.20" y="417.95" width="21.40" height="5.10" rx="2.50" fill="#000" fill-opacity="0.084" filter="url(#b2)"/>
<rect x="422.80" y="419.25" width="20.20" height="2.50" rx="1.25" fill="#000" fill-opacity="0.3" filter="url(#b2)"/>
<rect x="422.20" y="423.95" width="21.40" height="5.10" rx="2.50" fill="#000" fill-opacity="0.084" filter="url(#b2)"/>
<rect x="422.80" y="425.25" width="20.20" height="2.50" rx="1.25" fill="#000" fill-opacity="0.3" filter="url(#b2)"/>
<rect x="448.30" y="416.20" width="28.80" height="13.60" rx="2.50" fill="#000" fill-opacity="0.280" filter="url(#b2)"/>
<rect x="448.90" y="417.50" width="27.60" height="11.00" rx="2.00" fill="#000" fill-opacity="1.0" filter="url(#b1)"/>
</svg>
<rect x="249.5" y="413.9" width="229.89999999999998" height="18.200000000000045" fill="none" stroke="#303030" stroke-width="1.25"/>
<text x="244.0" y="426.8" font-size="12" text-anchor="end" fill="#1a1a1a">pSTAT1</text>
<line x1="480.9" y1="415.2" x2="484.9" y2="415.2" stroke="#1a1a1a" stroke-width="1.1"/>
<text x="489.0" y="420.0" font-size="12" text-anchor="start" fill="#1a1a1a">100</text>
<rect x="249.5" y="437.8" width="229.89999999999998" height="21.19999999999999" fill="#f6f6f6"/>
<svg x="249.5" y="437.8" width="229.89999999999998" height="21.19999999999999" viewBox="249.5 437.8 229.89999999999998 21.19999999999999" overflow="hidden">
<rect x="259.40" y="446.50" width="20.80" height="4.60" rx="2.30" fill="#000" fill-opacity="0.084" filter="url(#b2)"/>
<rect x="260.00" y="447.80" width="19.60" height="2.00" rx="1.00" fill="#000" fill-opacity="0.3" filter="url(#b2)"/>
<rect x="286.90" y="445.20" width="20.50" height="10.60" rx="2.50" fill="#000" fill-opacity="0.280" filter="url(#b2)"/>
<rect x="287.50" y="446.50" width="19.30" height="8.00" rx="2.00" fill="#000" fill-opacity="1.0" filter="url(#b1)"/>
<rect x="314.00" y="447.70" width="18.50" height="4.80" rx="2.40" fill="#000" fill-opacity="0.126" filter="url(#b2)"/>
<rect x="314.60" y="449.00" width="17.30" height="2.20" rx="1.10" fill="#000" fill-opacity="0.45" filter="url(#b2)"/>
<rect x="339.10" y="444.40" width="22.50" height="11.60" rx="2.50" fill="#000" fill-opacity="0.280" filter="url(#b2)"/>
<rect x="339.70" y="445.70" width="21.30" height="9.00" rx="2.00" fill="#000" fill-opacity="1.0" filter="url(#b1)"/>
<rect x="366.90" y="446.95" width="21.20" height="6.10" rx="2.50" fill="#000" fill-opacity="0.224" filter="url(#b2)"/>
<rect x="367.50" y="448.25" width="20.00" height="3.50" rx="1.75" fill="#000" fill-opacity="0.8" filter="url(#b1)"/>
<rect x="393.20" y="444.20" width="24.40" height="11.60" rx="2.50" fill="#000" fill-opacity="0.280" filter="url(#b2)"/>
<rect x="393.80" y="445.50" width="23.20" height="9.00" rx="2.00" fill="#000" fill-opacity="1.0" filter="url(#b1)"/>
<rect x="423.20" y="446.00" width="19.90" height="6.60" rx="2.50" fill="#000" fill-opacity="0.238" filter="url(#b2)"/>
<rect x="423.80" y="447.30" width="18.70" height="4.00" rx="2.00" fill="#000" fill-opacity="0.85" filter="url(#b1)"/>
<rect x="447.40" y="442.70" width="27.00" height="13.60" rx="2.50" fill="#000" fill-opacity="0.280" filter="url(#b2)"/>
<rect x="448.00" y="444.00" width="25.80" height="11.00" rx="2.00" fill="#000" fill-opacity="1.0" filter="url(#b1)"/>
</svg>
<rect x="249.5" y="437.8" width="229.89999999999998" height="21.19999999999999" fill="none" stroke="#303030" stroke-width="1.25"/>
<text x="244.0" y="452.20000000000005" font-size="12" text-anchor="end" fill="#1a1a1a">STAT1</text>
<line x1="480.9" y1="439.8" x2="484.9" y2="439.8" stroke="#1a1a1a" stroke-width="1.1"/>
<text x="489.0" y="445.1" font-size="12" text-anchor="start" fill="#1a1a1a">100</text>
<rect x="249.5" y="463.4" width="229.89999999999998" height="21.0" fill="#f3f3f3"/>
<svg x="249.5" y="463.4" width="229.89999999999998" height="21.0" viewBox="249.5 463.4 229.89999999999998 21.0" overflow="hidden">
<rect x="255.60" y="465.90" width="18.80" height="5.60" rx="2.50" fill="#000" fill-opacity="0.126" filter="url(#b2)" transform="rotate(10.30 265.00 468.70)"/>
<rect x="256.20" y="467.20" width="17.60" height="3.00" rx="1.50" fill="#000" fill-opacity="0.45" filter="url(#b2)" transform="rotate(10.30 265.00 468.70)"/>
<rect x="282.50" y="470.50" width="18.10" height="5.60" rx="2.50" fill="#000" fill-opacity="0.154" filter="url(#b2)" transform="rotate(11.38 291.55 473.30)"/>
<rect x="283.10" y="471.80" width="16.90" height="3.00" rx="1.50" fill="#000" fill-opacity="0.55" filter="url(#b2)" transform="rotate(11.38 291.55 473.30)"/>
<rect x="308.60" y="473.10" width="18.90" height="5.60" rx="2.50" fill="#000" fill-opacity="0.140" filter="url(#b2)" transform="rotate(-1.94 318.05 475.90)"/>
<rect x="309.20" y="474.40" width="17.70" height="3.00" rx="1.50" fill="#000" fill-opacity="0.5" filter="url(#b2)" transform="rotate(-1.94 318.05 475.90)"/>
<rect x="334.40" y="472.80" width="20.80" height="5.60" rx="2.50" fill="#000" fill-opacity="0.126" filter="url(#b2)"/>
<rect x="335.00" y="474.10" width="19.60" height="3.00" rx="1.50" fill="#000" fill-opacity="0.45" filter="url(#b2)"/>
<rect x="363.60" y="472.65" width="22.00" height="6.10" rx="2.50" fill="#000" fill-opacity="0.126" filter="url(#b2)"/>
<rect x="364.20" y="473.95" width="20.80" height="3.50" rx="1.75" fill="#000" fill-opacity="0.45" filter="url(#b2)"/>
<rect x="392.90" y="471.50" width="24.20" height="7.60" rx="2.50" fill="#000" fill-opacity="0.224" filter="url(#b2)"/>
<rect x="393.50" y="472.80" width="23.00" height="5.00" rx="2.00" fill="#000" fill-opacity="0.8" filter="url(#b2)"/>
<rect x="422.90" y="471.50" width="19.70" height="5.60" rx="2.50" fill="#000" fill-opacity="0.112" filter="url(#b2)"/>
<rect x="423.50" y="472.80" width="18.50" height="3.00" rx="1.50" fill="#000" fill-opacity="0.4" filter="url(#b2)"/>
<rect x="448.90" y="467.85" width="27.10" height="8.10" rx="2.50" fill="#000" fill-opacity="0.280" filter="url(#b2)"/>
<rect x="449.50" y="469.15" width="25.90" height="5.50" rx="2.00" fill="#000" fill-opacity="1.0" filter="url(#b2)"/>
</svg>
<rect x="249.5" y="463.4" width="229.89999999999998" height="21.0" fill="none" stroke="#303030" stroke-width="1.25"/>
<text x="244.0" y="478.95000000000005" font-size="12" text-anchor="end" fill="#1a1a1a" textLength="39.2" lengthAdjust="spacingAndGlyphs">Viperin</text>
<line x1="480.9" y1="471.1" x2="484.9" y2="471.1" stroke="#1a1a1a" stroke-width="1.1"/>
<text x="489.0" y="474.5" font-size="12" text-anchor="start" fill="#1a1a1a">40</text>
<rect x="249.5" y="488.6" width="229.89999999999998" height="20.899999999999977" fill="#f6f6f6"/>
<svg x="249.5" y="488.6" width="229.89999999999998" height="20.899999999999977" viewBox="249.5 488.6 229.89999999999998 20.899999999999977" overflow="hidden">
<rect x="249.00" y="489.00" width="3.80" height="6.60" rx="2.50" fill="#000" fill-opacity="0.154" filter="url(#b2)"/>
<rect x="249.60" y="490.30" width="2.60" height="4.00" rx="2.00" fill="#000" fill-opacity="0.55" filter="url(#b2)"/>
<rect x="256.40" y="493.10" width="19.20" height="4.60" rx="2.30" fill="#000" fill-opacity="0.022" filter="url(#b2)"/>
<rect x="257.00" y="494.40" width="18.00" height="2.00" rx="1.00" fill="#000" fill-opacity="0.08" filter="url(#b2)"/>
<rect x="282.40" y="498.40" width="18.20" height="4.60" rx="2.30" fill="#000" fill-opacity="0.028" filter="url(#b2)"/>
<rect x="283.00" y="499.70" width="17.00" height="2.00" rx="1.00" fill="#000" fill-opacity="0.1" filter="url(#b2)"/>
<rect x="311.40" y="499.05" width="21.20" height="5.10" rx="2.50" fill="#000" fill-opacity="0.070" filter="url(#b2)"/>
<rect x="312.00" y="500.35" width="20.00" height="2.50" rx="1.25" fill="#000" fill-opacity="0.25" filter="url(#b2)"/>
<rect x="337.40" y="499.05" width="21.20" height="5.10" rx="2.50" fill="#000" fill-opacity="0.070" filter="url(#b2)"/>
<rect x="338.00" y="500.35" width="20.00" height="2.50" rx="1.25" fill="#000" fill-opacity="0.25" filter="url(#b2)"/>
<rect x="364.40" y="499.40" width="21.20" height="5.60" rx="2.50" fill="#000" fill-opacity="0.062" filter="url(#b2)"/>
<rect x="365.00" y="500.70" width="20.00" height="3.00" rx="1.50" fill="#000" fill-opacity="0.22" filter="url(#b2)"/>
<rect x="393.20" y="499.15" width="23.40" height="6.10" rx="2.50" fill="#000" fill-opacity="0.106" filter="url(#b2)"/>
<rect x="393.80" y="500.45" width="22.20" height="3.50" rx="1.75" fill="#000" fill-opacity="0.38" filter="url(#b2)"/>
<rect x="423.20" y="499.20" width="18.40" height="5.60" rx="2.50" fill="#000" fill-opacity="0.062" filter="url(#b2)"/>
<rect x="423.80" y="500.50" width="17.20" height="3.00" rx="1.50" fill="#000" fill-opacity="0.22" filter="url(#b2)"/>
<rect x="448.20" y="497.55" width="24.40" height="7.10" rx="2.50" fill="#000" fill-opacity="0.202" filter="url(#b2)"/>
<rect x="448.80" y="498.85" width="23.20" height="4.50" rx="2.00" fill="#000" fill-opacity="0.72" filter="url(#b2)"/>
<rect x="477.00" y="493.70" width="4.10" height="11.60" rx="2.50" fill="#000" fill-opacity="0.196" filter="url(#b2)"/>
<rect x="477.60" y="495.00" width="2.90" height="9.00" rx="2.00" fill="#000" fill-opacity="0.7" filter="url(#b2)"/>
</svg>
<rect x="249.5" y="488.6" width="229.89999999999998" height="20.899999999999977" fill="none" stroke="#303030" stroke-width="1.25"/>
<text x="244.0" y="504.65000000000003" font-size="12" text-anchor="end" fill="#1a1a1a">OAS1</text>
<line x1="480.9" y1="498.7" x2="484.9" y2="498.7" stroke="#1a1a1a" stroke-width="1.1"/>
<text x="489.0" y="502.2" font-size="12" text-anchor="start" fill="#1a1a1a">40</text>
<rect x="249.5" y="513.7" width="229.89999999999998" height="21.299999999999955" fill="#f3f3f3"/>
<svg x="249.5" y="513.7" width="229.89999999999998" height="21.299999999999955" viewBox="249.5 513.7 229.89999999999998 21.299999999999955" overflow="hidden">
<rect x="254.10" y="517.20" width="20.30" height="7.40" rx="2.50" fill="#000" fill-opacity="0.280" filter="url(#b2)" transform="rotate(7.16 264.25 520.90)"/>
<rect x="254.70" y="518.50" width="19.10" height="4.80" rx="2.00" fill="#000" fill-opacity="1.0" filter="url(#b1)" transform="rotate(7.16 264.25 520.90)"/>
<rect x="254.40" y="526.10" width="21.20" height="4.60" rx="2.30" fill="#000" fill-opacity="0.084" filter="url(#b2)"/>
<rect x="255.00" y="527.40" width="20.00" height="2.00" rx="1.00" fill="#000" fill-opacity="0.3" filter="url(#b2)"/>
<rect x="282.40" y="522.00" width="18.10" height="7.40" rx="2.50" fill="#000" fill-opacity="0.280" filter="url(#b2)" transform="rotate(12.99 291.45 525.70)"/>
<rect x="283.00" y="523.30" width="16.90" height="4.80" rx="2.00" fill="#000" fill-opacity="1.0" filter="url(#b1)" transform="rotate(12.99 291.45 525.70)"/>
<rect x="307.90" y="524.00" width="20.30" height="7.40" rx="2.50" fill="#000" fill-opacity="0.280" filter="url(#b2)"/>
<rect x="308.50" y="525.30" width="19.10" height="4.80" rx="2.00" fill="#000" fill-opacity="1.0" filter="url(#b1)"/>
<rect x="335.60" y="523.45" width="20.80" height="7.10" rx="2.50" fill="#000" fill-opacity="0.280" filter="url(#b2)"/>
<rect x="336.20" y="524.75" width="19.60" height="4.50" rx="2.00" fill="#000" fill-opacity="1.0" filter="url(#b1)"/>
<rect x="362.90" y="523.60" width="23.50" height="7.60" rx="2.50" fill="#000" fill-opacity="0.280" filter="url(#b2)"/>
<rect x="363.50" y="524.90" width="22.30" height="5.00" rx="2.00" fill="#000" fill-opacity="1.0" filter="url(#b1)"/>
<rect x="392.90" y="522.30" width="24.90" height="7.80" rx="2.50" fill="#000" fill-opacity="0.280" filter="url(#b2)"/>
<rect x="393.50" y="523.60" width="23.70" height="5.20" rx="2.00" fill="#000" fill-opacity="1.0" filter="url(#b1)"/>
<rect x="422.20" y="521.30" width="21.00" height="7.60" rx="2.50" fill="#000" fill-opacity="0.280" filter="url(#b2)"/>
<rect x="422.80" y="522.60" width="19.80" height="5.00" rx="2.00" fill="#000" fill-opacity="1.0" filter="url(#b1)"/>
<rect x="449.40" y="518.80" width="26.20" height="7.60" rx="2.50" fill="#000" fill-opacity="0.280" filter="url(#b2)"/>
<rect x="450.00" y="520.10" width="25.00" height="5.00" rx="2.00" fill="#000" fill-opacity="1.0" filter="url(#b1)"/>
<rect x="454.00" y="530.50" width="19.60" height="4.40" rx="2.20" fill="#000" fill-opacity="0.084" filter="url(#b2)"/>
<rect x="454.60" y="531.80" width="18.40" height="1.80" rx="0.90" fill="#000" fill-opacity="0.3" filter="url(#b2)"/>
</svg>
<rect x="249.5" y="513.7" width="229.89999999999998" height="21.299999999999955" fill="none" stroke="#303030" stroke-width="1.25"/>
<text x="244.0" y="530.25" font-size="12" text-anchor="end" fill="#1a1a1a" textLength="39.2" lengthAdjust="spacingAndGlyphs">&#946;-Actin</text>
<line x1="480.9" y1="518.0" x2="484.9" y2="518.0" stroke="#1a1a1a" stroke-width="1.1"/>
<text x="489.0" y="522.0" font-size="12" text-anchor="start" fill="#1a1a1a">40</text>
</svg></body></html>
